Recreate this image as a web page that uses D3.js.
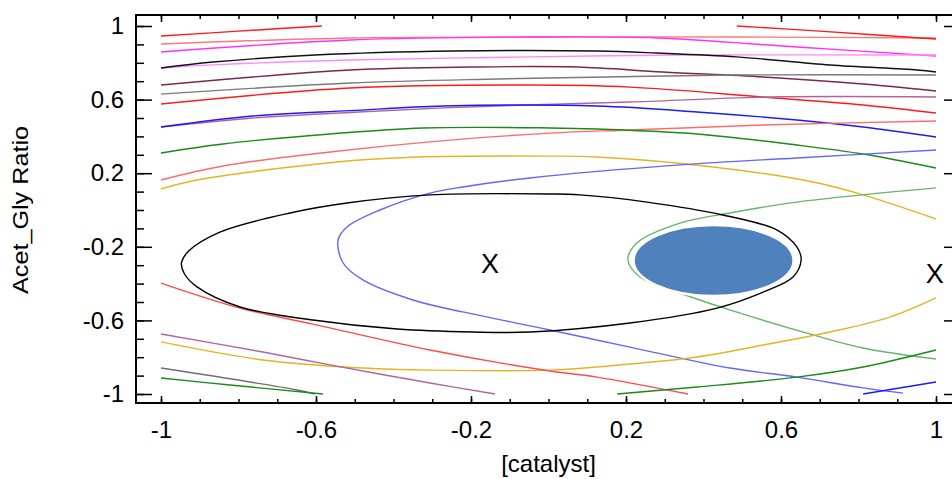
<!DOCTYPE html>
<html>
<head>
<meta charset="utf-8">
<script src="https://cdn.jsdelivr.net/npm/d3@7"></script>
<style>
  body { margin: 0; background: #fff; }
  svg { display: block; font-family: "Liberation Sans", Arial, sans-serif; }
  .contour { fill: none; stroke-width: 1.4; }
  .axis text { font-size: 24px; fill: #000; }
  .axis line { stroke: #000; stroke-width: 1.5; }
</style>
</head>
<body>
<div class="plot"></div>
<script>

// contour lines, as [catalyst, Acet_Gly Ratio] pairs
var redTopLeft = [[-1, 0.946], [-0.8, 0.972], [-0.585, 1.0]];
var redTopRight = [[0.486, 1.0], [0.7, 0.972], [1, 0.929]];
var salmonTop = [[-1, 0.902], [-0.512, 0.935], [-0.048, 0.94], [0.5, 0.94], [1, 0.935]];
var magentaTop = [[-1, 0.859], [-0.512, 0.924], [-0.048, 0.94], [0.28, 0.935], [0.641, 0.886], [1, 0.837]];
var blackTop = [[-1, 0.772], [-0.866, 0.804], [-0.603, 0.842], [-0.246, 0.864], [0.125, 0.864],
                [0.28, 0.853], [0.486, 0.832], [0.726, 0.788], [0.951, 0.761], [1, 0.75]];
var pinkTop = [[-1, 0.772], [-0.85, 0.79], [-0.512, 0.815], [-0.048, 0.832], [0.332, 0.842], [1, 0.842]];
var maroonTop = [[-1, 0.679], [-0.512, 0.761], [-0.2, 0.777], [0.074, 0.777], [0.295, 0.75],
                 [0.554, 0.723], [0.812, 0.685], [1, 0.647]];
var grayTop = [[-1, 0.63], [-0.512, 0.69], [-0.13, 0.712], [0.151, 0.723], [0.468, 0.734], [1, 0.734]];
var redMid = [[-1, 0.576], [-0.512, 0.663], [-0.048, 0.679], [0.21, 0.668], [0.554, 0.614],
              [0.812, 0.571], [1, 0.527]];
var mauveMid = [[-1, 0.451], [-0.763, 0.5], [-0.512, 0.53], [-0.27, 0.555], [-0.048, 0.571],
                [0.21, 0.587], [0.572, 0.614], [1, 0.614]];
var blueMid = [[-1, 0.451], [-0.763, 0.511], [-0.512, 0.54], [-0.272, 0.565], [0.125, 0.565],
               [0.383, 0.533], [0.641, 0.489], [0.812, 0.451], [1, 0.397]];
var salmonMid = [[-1, 0.163], [-0.84, 0.239], [-0.564, 0.315], [-0.306, 0.37], [0.004, 0.418],
                 [0.21, 0.435], [0.554, 0.462], [1, 0.484]];
var greenMid = [[-1, 0.31], [-0.84, 0.359], [-0.564, 0.413], [-0.324, 0.446], [0.004, 0.446],
                [0.125, 0.44], [0.383, 0.413], [0.641, 0.353], [0.812, 0.304], [1, 0.228]];
var goldMid = [[-1, 0.114], [-0.907, 0.163], [-0.546, 0.261], [-0.339, 0.288], [0.004, 0.293],
               [0.125, 0.288], [0.425, 0.234], [0.683, 0.152], [0.812, 0.082], [1, -0.049]];
var blueArc = [[1, 0.326], [0.641, 0.283], [0.339, 0.245], [-0.048, 0.174], [-0.221, 0.125],
               [-0.306, 0.092], [-0.435, 0.0], [-0.52, -0.092], [-0.543, -0.163], [-0.53, -0.288],
               [-0.479, -0.38], [-0.35, -0.489], [-0.221, -0.554], [0.004, -0.652], [0.21, -0.745],
               [0.468, -0.859], [0.641, -0.908], [0.812, -0.967], [0.915, -0.995]];
var greenArc = [[1, 0.12], [0.641, 0.043], [0.468, -0.016], [0.339, -0.071], [0.228, -0.179],
                [0.205, -0.272], [0.236, -0.364], [0.339, -0.451], [0.468, -0.543], [0.683, -0.679],
                [0.812, -0.75], [1, -0.81]];
var goldLow = [[-1, -0.717], [-0.737, -0.815], [-0.479, -0.859], [-0.306, -0.87], [0.004, -0.87],
               [0.21, -0.837], [0.383, -0.799], [0.554, -0.734], [0.726, -0.663], [0.881, -0.582], [1, -0.478]];
var redLow = [[-1, -0.397], [-0.796, -0.533], [-0.608, -0.62], [-0.306, -0.761], [0.004, -0.875],
              [0.125, -0.908], [0.36, -1.0]];
var mauveLow = [[-1, -0.674], [-0.737, -0.772], [-0.564, -0.842], [-0.306, -0.94], [-0.138, -1.0]];
var grayLow = [[-1, -0.859], [-0.649, -0.978], [-0.603, -1.0]];
var greenLowLeft = [[-1, -0.913], [-0.822, -0.951], [-0.582, -1.0]];
var greenLowRight = [[0.177, -1.0], [0.383, -0.962], [0.641, -0.908], [0.812, -0.853], [1, -0.761]];
var blueLowRight = [[0.812, -1.0], [1, -0.935]];

// the closed black contour round the centre point
var blackLoop = [[-0.947, -0.285], [-0.928, -0.222], [-0.848, -0.12], [-0.667, -0.016],
                 [-0.52, 0.038], [-0.306, 0.082], [0.004, 0.087], [0.081, 0.082], [0.254, 0.043],
                 [0.45, -0.027], [0.59, -0.109], [0.641, -0.201], [0.652, -0.272], [0.631, -0.364],
                 [0.554, -0.446], [0.435, -0.533], [0.21, -0.614], [-0.048, -0.663], [-0.195, -0.663],
                 [-0.391, -0.647], [-0.608, -0.598], [-0.796, -0.527], [-0.907, -0.418], [-0.94, -0.345]];

// filled optimum region: centre and half widths
var optimumCentre = [0.426, -0.2745];
var optimumRadius = [0.2065, 0.193];

// X markers
var markers = [[-0.151, -0.288], [0.997, -0.342]];

// tick labels
var majorTicks = [-1, -0.6, -0.2, 0.2, 0.6, 1];
var minorTicks = d3.range(-10, 11).map(i => i / 10);

var contours = [
  {pts: salmonTop, color: "#ff7878"},
  {pts: redTopLeft, color: "#ff1a1a"},
  {pts: redTopRight, color: "#ff1a1a"},
  {pts: magentaTop, color: "#ff30ff"},
  {pts: pinkTop, color: "#ff88ff"},
  {pts: blackTop, color: "#111111"},
  {pts: maroonTop, color: "#7d2455"},
  {pts: grayTop, color: "#7a7a7a"},
  {pts: redMid, color: "#ff1a1a"},
  {pts: mauveMid, color: "#b0669a"},
  {pts: blueMid, color: "#1a1aff"},
  {pts: salmonMid, color: "#ff6a6a"},
  {pts: greenMid, color: "#1a8a1a"},
  {pts: goldMid, color: "#e6b422"},
  {pts: blueArc, color: "#6464ff"},
  {pts: greenArc, color: "#6ab46a"},
  {pts: goldLow, color: "#e6b422"},
  {pts: redLow, color: "#ff4a4a"},
  {pts: mauveLow, color: "#b0669a"},
  {pts: grayLow, color: "#6e6e6e"},
  {pts: greenLowLeft, color: "#1a8a1a"},
  {pts: greenLowRight, color: "#1a8a1a"},
  {pts: blueLowRight, color: "#1a1aff"}
];

var svgWidth = 952;
var svgHeight = 479;

// frame edges in pixels
var frame = {left: 136, top: 15, right: 960, bottom: 403};

var xScale = d3.scaleLinear().domain([-1, 1]).range([161, 936]);
var yScale = d3.scaleLinear().domain([-1, 1]).range([394, 26]);

var line = d3.line()
  .x(d => xScale(d[0]))
  .y(d => yScale(d[1]))
  .curve(d3.curveCatmullRom);

var loop = d3.line()
  .x(d => xScale(d[0]))
  .y(d => yScale(d[1]))
  .curve(d3.curveCatmullRomClosed);

const svg = d3.select(".plot").append("svg")
  .attr("width", svgWidth)
  .attr("height", svgHeight);

// contour lines
svg.selectAll(".contour")
  .data(contours)
  .enter()
  .append("path")
  .attr("class", "contour")
  .attr("stroke", d => d.color)
  .attr("d", d => line(d.pts));

svg.append("path")
  .attr("class", "contour")
  .attr("stroke", "#000")
  .attr("stroke-width", 1.7)
  .attr("d", loop(blackLoop));

// optimum ellipse
var cx = xScale(optimumCentre[0]);
var cy = yScale(optimumCentre[1]);
svg.append("ellipse")
  .attr("cx", cx)
  .attr("cy", cy)
  .attr("rx", xScale(optimumCentre[0] + optimumRadius[0]) - cx)
  .attr("ry", cy - yScale(optimumCentre[1] + optimumRadius[1]))
  .attr("fill", "#4f81bd")
  .attr("stroke", "#fff")
  .attr("stroke-width", 2.5);

// X markers
svg.selectAll(".marker")
  .data(markers)
  .enter()
  .append("text")
  .attr("class", "marker")
  .attr("x", d => xScale(d[0]))
  .attr("y", d => yScale(d[1]))
  .attr("dy", "0.36em")
  .attr("text-anchor", "middle")
  .attr("font-size", "27px")
  .text("X");

// frame
svg.append("rect")
  .attr("x", frame.left)
  .attr("y", frame.top)
  .attr("width", frame.right - frame.left)
  .attr("height", frame.bottom - frame.top)
  .attr("fill", "none")
  .attr("stroke", "#000")
  .attr("stroke-width", 2);

var fmt = d => String(d);

// left axis, ticks point inward
svg.append("g")
  .attr("class", "axis")
  .attr("transform", "translate(" + frame.left + ",0)")
  .call(d3.axisLeft(yScale).tickValues(minorTicks).tickSizeInner(-8).tickSizeOuter(0).tickFormat(""))
  .select(".domain").remove();

var yAxis = svg.append("g")
  .attr("class", "axis")
  .attr("transform", "translate(" + frame.left + ",0)")
  .call(d3.axisLeft(yScale).tickValues(majorTicks).tickSizeInner(-16).tickSizeOuter(0)
          .tickPadding(12).tickFormat(fmt));
yAxis.select(".domain").remove();

// right axis, no labels
svg.append("g")
  .attr("class", "axis")
  .attr("transform", "translate(" + frame.right + ",0)")
  .call(d3.axisRight(yScale).tickValues(minorTicks).tickSizeInner(-8).tickSizeOuter(0).tickFormat(""))
  .select(".domain").remove();

svg.append("g")
  .attr("class", "axis")
  .attr("transform", "translate(" + frame.right + ",0)")
  .call(d3.axisRight(yScale).tickValues(majorTicks).tickSizeInner(-16).tickSizeOuter(0).tickFormat(""))
  .select(".domain").remove();

// bottom axis
svg.append("g")
  .attr("class", "axis")
  .attr("transform", "translate(0," + frame.bottom + ")")
  .call(d3.axisBottom(xScale).tickValues(minorTicks).tickSizeInner(-4).tickSizeOuter(0).tickFormat(""))
  .select(".domain").remove();

var xAxis = svg.append("g")
  .attr("class", "axis")
  .attr("transform", "translate(0," + frame.bottom + ")")
  .call(d3.axisBottom(xScale).tickValues(majorTicks).tickSizeInner(-7).tickSizeOuter(0)
          .tickPadding(18).tickFormat(fmt));
xAxis.select(".domain").remove();

// top axis
svg.append("g")
  .attr("class", "axis")
  .attr("transform", "translate(0," + frame.top + ")")
  .call(d3.axisTop(xScale).tickValues(minorTicks).tickSizeInner(-4).tickSizeOuter(0).tickFormat(""))
  .select(".domain").remove();

svg.append("g")
  .attr("class", "axis")
  .attr("transform", "translate(0," + frame.top + ")")
  .call(d3.axisTop(xScale).tickValues(majorTicks).tickSizeInner(-7).tickSizeOuter(0).tickFormat(""))
  .select(".domain").remove();

// axis titles
svg.append("text")
  .attr("x", xScale(0))
  .attr("y", 472)
  .attr("text-anchor", "middle")
  .attr("font-size", "24px")
  .text("[catalyst]");

svg.append("text")
  .attr("transform", "translate(28," + yScale(0) + ") rotate(-90)")
  .attr("text-anchor", "middle")
  .attr("font-size", "22px")
  .attr("textLength", 168)
  .attr("lengthAdjust", "spacingAndGlyphs")
  .text("Acet_Gly Ratio");

</script>
</body>
</html>
